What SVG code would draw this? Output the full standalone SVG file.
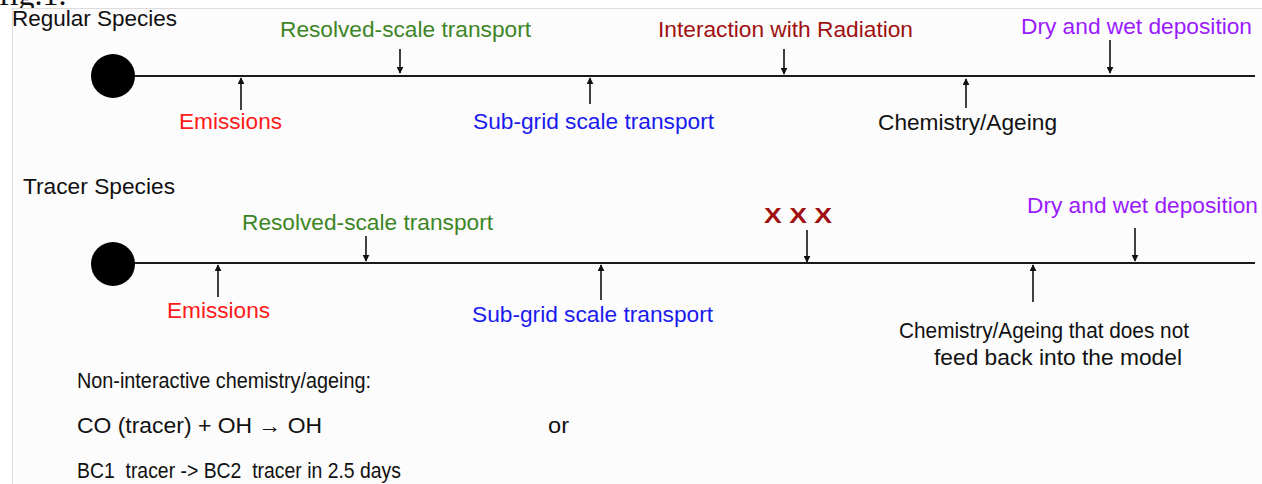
<svg xmlns="http://www.w3.org/2000/svg" width="1262" height="484" viewBox="0 0 1262 484">
<style>
text{font-family:"Liberation Sans",Arial,sans-serif;font-size:21.5px;}
.blk{fill:#111}
.red{fill:#ff1a1a}
.grn{fill:#3d8526}
.drd{fill:#a01010}
.blu{fill:#1a1aee}
.pur{fill:#9a1aff}
.ax{stroke:#1a1a1a;stroke-width:2;fill:none}
.arr{stroke:#111;stroke-width:1.6;fill:none;marker-end:url(#ah)}
</style>
<defs>
<marker id="ah" viewBox="0 0 10 10" refX="9" refY="5" markerWidth="7" markerHeight="7" markerUnits="userSpaceOnUse" orient="auto">
<path d="M0,0 L10,5 L0,10 z" fill="#111"/>
</marker>
<clipPath id="topclip"><rect x="0" y="0" width="1262" height="8"/></clipPath>
</defs>
<rect x="0" y="0" width="1262" height="484" fill="#ffffff"/>
<g clip-path="url(#topclip)">
<text x="-1" y="5" style="font-family:'Liberation Serif',serif;font-size:32px" fill="#111">fig.1.</text>
</g>
<rect x="12.5" y="8.5" width="1260" height="480" fill="#fcfcfc" stroke="#dcdcdc" stroke-width="1"/>

<g id="regular">
<text id="regular-title" class="blk" x="12" y="26" textLength="165" lengthAdjust="spacingAndGlyphs">Regular Species</text>
<circle id="regular-start" cx="113" cy="76" r="22" fill="#000"/>
<line class="ax" x1="135" y1="76" x2="1255" y2="76"/>
</g>
<g id="reg-emissions"><text class="red" x="179" y="129" textLength="103" lengthAdjust="spacingAndGlyphs">Emissions</text></g>
<g id="reg-resolved"><text class="grn" x="280" y="37" textLength="251" lengthAdjust="spacingAndGlyphs">Resolved-scale transport</text></g>
<g id="reg-subgrid"><text class="blu" x="473" y="129" textLength="241" lengthAdjust="spacingAndGlyphs">Sub-grid scale transport</text></g>
<g id="reg-radiation"><text class="drd" x="658" y="37" textLength="255" lengthAdjust="spacingAndGlyphs">Interaction with Radiation</text></g>
<g id="reg-chem"><text class="blk" x="878" y="130" textLength="179" lengthAdjust="spacingAndGlyphs">Chemistry/Ageing</text></g>
<g id="reg-depo"><text class="pur" x="1021" y="34" textLength="231" lengthAdjust="spacingAndGlyphs">Dry and wet deposition</text></g>

<g id="tracer">
<text id="tracer-title" class="blk" x="23" y="194" textLength="152" lengthAdjust="spacingAndGlyphs">Tracer Species</text>
<circle id="tracer-start" cx="113" cy="264" r="22" fill="#000"/>
<line class="ax" x1="135" y1="263" x2="1255" y2="263"/>
</g>
<g id="tr-emissions"><text class="red" x="167" y="318" textLength="103" lengthAdjust="spacingAndGlyphs">Emissions</text></g>
<g id="tr-resolved"><text class="grn" x="242" y="230" textLength="251" lengthAdjust="spacingAndGlyphs">Resolved-scale transport</text></g>
<g id="tr-subgrid"><text class="blu" x="472" y="322" textLength="241" lengthAdjust="spacingAndGlyphs">Sub-grid scale transport</text></g>
<g id="tr-xxx"><text class="drd" x="764" y="223" style="font-weight:bold;font-size:22px" textLength="68" lengthAdjust="spacingAndGlyphs">X X X</text></g>
<g id="tr-depo"><text class="pur" x="1027" y="213" textLength="231" lengthAdjust="spacingAndGlyphs">Dry and wet deposition</text></g>
<g id="tr-chem">
<text class="blk" x="899" y="338" textLength="290" lengthAdjust="spacingAndGlyphs">Chemistry/Ageing that does not</text>
<text class="blk" x="934" y="365" textLength="248" lengthAdjust="spacingAndGlyphs">feed back into the model</text>
</g>

<g id="notes">
<text class="blk" x="77" y="388" textLength="294" lengthAdjust="spacingAndGlyphs">Non-interactive chemistry/ageing:</text>
<text class="blk" x="77" y="433" textLength="245" lengthAdjust="spacingAndGlyphs">CO (tracer) + OH → OH</text>
<text class="blk" x="548" y="433" textLength="21" lengthAdjust="spacingAndGlyphs">or</text>
<text class="blk" x="77" y="478" textLength="324" lengthAdjust="spacingAndGlyphs" xml:space="preserve">BC1  tracer -&gt; BC2  tracer in 2.5 days</text>
</g>

<g id="connectors">
<line class="arr" x1="241" y1="110" x2="241" y2="78"/>
<line class="arr" x1="400" y1="49" x2="400" y2="73"/>
<line class="arr" x1="590" y1="104" x2="590" y2="78"/>
<line class="arr" x1="784" y1="49" x2="784" y2="74"/>
<line class="arr" x1="966" y1="108" x2="966" y2="79"/>
<line class="arr" x1="1110" y1="40" x2="1110" y2="73"/>
<line class="arr" x1="218" y1="297" x2="218" y2="265"/>
<line class="arr" x1="366" y1="236" x2="366" y2="261"/>
<line class="arr" x1="601" y1="300" x2="601" y2="265"/>
<line class="arr" x1="807" y1="230" x2="807" y2="262"/>
<line class="arr" x1="1135" y1="228" x2="1135" y2="261"/>
<line class="arr" x1="1033" y1="302" x2="1033" y2="265"/>
</g>
</svg>
